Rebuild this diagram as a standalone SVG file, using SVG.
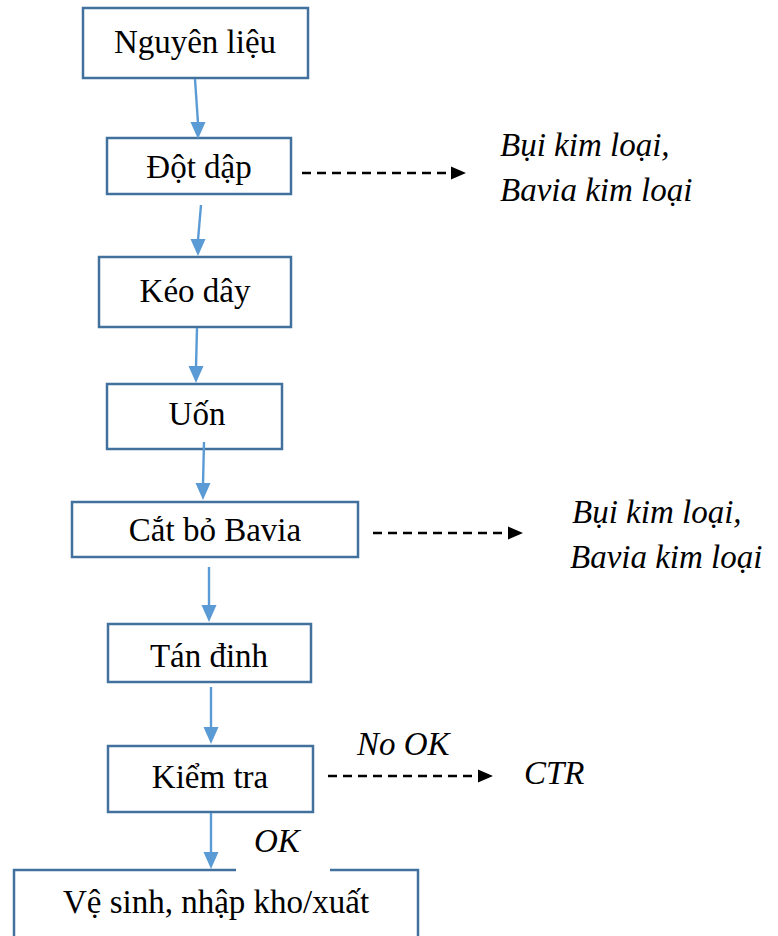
<svg xmlns="http://www.w3.org/2000/svg" width="778" height="936" viewBox="0 0 778 936">
  <rect width="778" height="936" fill="#ffffff"/>

  <g id="node-labels">
    <text x="195" y="53" font-family="Liberation Serif" font-size="33" text-anchor="middle">Nguyên liệu</text>
    <text x="199" y="178" font-family="Liberation Serif" font-size="33" text-anchor="middle">Đột dập</text>
    <text x="195" y="302" font-family="Liberation Serif" font-size="33" text-anchor="middle">Kéo dây</text>
    <text x="197" y="425" font-family="Liberation Serif" font-size="33" text-anchor="middle">Uốn</text>
    <text x="215" y="541" font-family="Liberation Serif" font-size="33" text-anchor="middle">Cắt bỏ Bavia</text>
    <text x="209" y="667" font-family="Liberation Serif" font-size="33" text-anchor="middle">Tán đinh</text>
    <text x="210" y="788" font-family="Liberation Serif" font-size="33" text-anchor="middle">Kiểm tra</text>
    <text x="216" y="913" font-family="Liberation Serif" font-size="33" text-anchor="middle">Vệ sinh, nhập kho/xuất</text>
  </g>

  <g id="labels">
    <text x="500" y="156" font-family="Liberation Serif" font-size="33" font-style="italic">Bụi kim loại,</text>
    <text x="500" y="201" font-family="Liberation Serif" font-size="33" font-style="italic">Bavia kim loại</text>
    <text x="572" y="523" font-family="Liberation Serif" font-size="33" font-style="italic">Bụi kim loại,</text>
    <text x="570" y="568" font-family="Liberation Serif" font-size="33" font-style="italic">Bavia kim loại</text>
    <text x="357" y="755" font-family="Liberation Serif" font-size="33" font-style="italic">No OK</text>
    <text x="524" y="784" font-family="Liberation Serif" font-size="33" font-style="italic">CTR</text>
    <text x="254" y="852" font-family="Liberation Serif" font-size="33" font-style="italic">OK</text>
  </g>

  <!-- process boxes (outline only, labels sit underneath) -->
  <g fill="none" stroke="#41719C" stroke-width="2.5">
    <rect id="n1" x="83" y="8" width="225" height="70"/>
    <rect id="n2" x="107" y="138" width="184" height="56"/>
    <rect id="n3" x="99" y="257" width="192" height="70"/>
    <rect id="n4" x="107" y="384" width="175" height="65"/>
    <rect id="n5" x="72" y="502" width="286" height="55"/>
    <rect id="n6" x="108" y="624" width="203" height="58"/>
    <rect id="n7" x="108" y="746" width="205" height="66"/>
    <rect id="n8" x="14" y="870" width="404" height="90"/>
  </g>
  <!-- background of the OK label breaking the last box's top border -->
  <rect x="236" y="866" width="94" height="8" fill="#ffffff"/>

  <!-- connectors: blue process flow, black dashed waste outputs -->
  <g id="connectors">
    <g stroke="#5B9BD5" stroke-width="2.4" fill="none">
      <line x1="195" y1="79" x2="198" y2="123"/>
      <line x1="201" y1="205" x2="198" y2="240"/>
      <line x1="197" y1="328" x2="196" y2="367"/>
      <line x1="204" y1="442" x2="203" y2="484"/>
      <line x1="209" y1="567" x2="209" y2="606"/>
      <line x1="211" y1="687" x2="211" y2="728"/>
      <line x1="211" y1="813" x2="211" y2="853"/>
    </g>
    <g fill="#5B9BD5">
      <polygon points="190.5,122 205.5,122 198,139"/>
      <polygon points="190.5,239 205.5,239 198,256"/>
      <polygon points="188.5,366 203.5,366 196,383"/>
      <polygon points="195.5,483 210.5,483 203,500"/>
      <polygon points="201.5,605 216.5,605 209,622"/>
      <polygon points="203.5,727 218.5,727 211,744"/>
      <polygon points="203.5,852 218.5,852 211,869"/>
    </g>
    <g stroke="#000" stroke-width="2.4" stroke-dasharray="9 6" fill="none">
      <line x1="302" y1="173" x2="452" y2="173"/>
      <line x1="373" y1="533" x2="509" y2="533"/>
      <line x1="328" y1="776" x2="479" y2="776"/>
    </g>
    <g fill="#000">
      <polygon points="451,166.5 451,179.5 466,173"/>
      <polygon points="508,526.5 508,539.5 523,533"/>
      <polygon points="478,769.5 478,782.5 493,776"/>
    </g>
  </g>
</svg>
